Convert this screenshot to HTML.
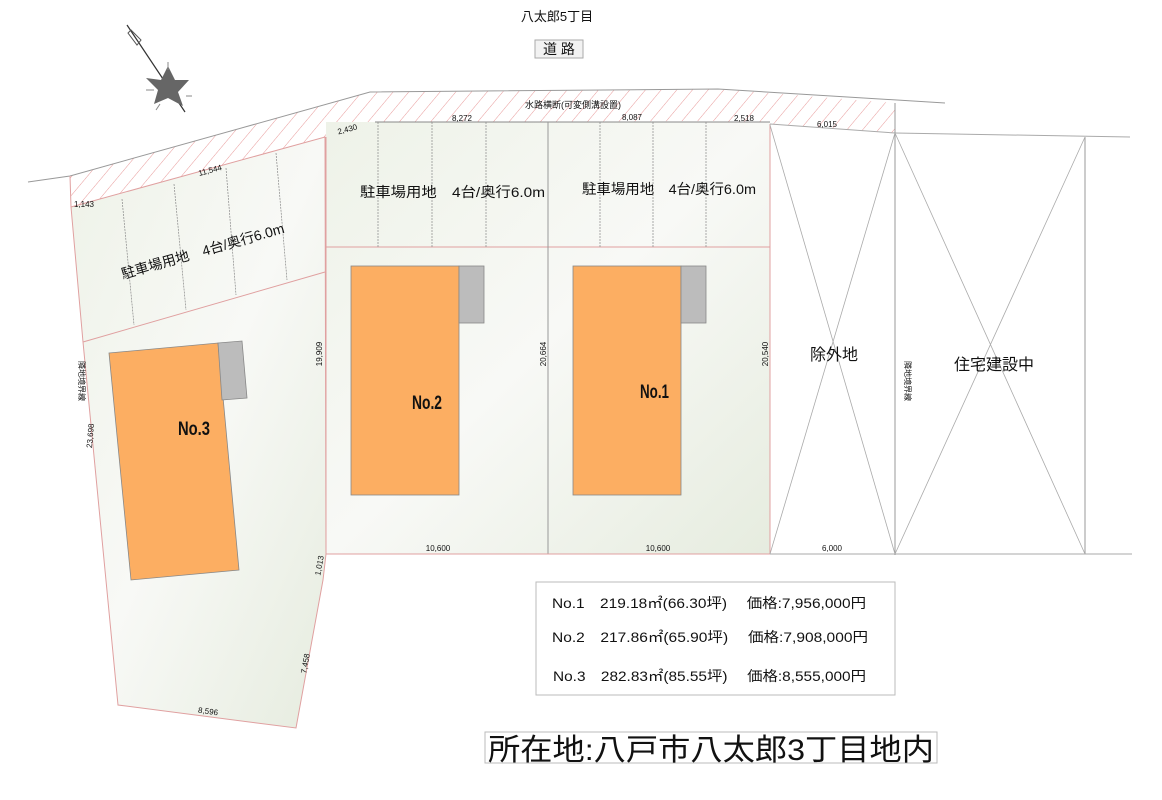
<!DOCTYPE html>
<html><head><meta charset="utf-8"><style>
html,body{margin:0;padding:0;background:#fff;}
svg{display:block;}
text{font-family:"Liberation Sans","Noto Sans CJK JP",sans-serif;fill:#111;}
</style></head><body>
<svg width="1162" height="800" viewBox="0 0 1162 800" xmlns="http://www.w3.org/2000/svg">
<defs>
<pattern id="h" patternUnits="userSpaceOnUse" width="12" height="12" patternTransform="rotate(40)">
<line x1="0" y1="0" x2="0" y2="12" stroke="#e89a9a" stroke-width="1"/>
</pattern>
<linearGradient id="g" x1="0" y1="0" x2="1" y2="1">
<stop offset="0" stop-color="#eef2e8"/><stop offset="0.5" stop-color="#f8f9f6"/><stop offset="1" stop-color="#e6ecdf"/>
</linearGradient>
</defs>

<polygon points="70,176 370,92 718,89 895,103 895,133 770,124 716,121 375,122 325,137 71,207" fill="url(#h)"/>
<polyline points="28,182 70,176 370,92 718,89 945,103" fill="none" stroke="#999" stroke-width="1"/>
<line x1="70" y1="176" x2="71" y2="207" stroke="#e0a0a0"/>

<polygon points="71,207 325,137 326,554 323,580 296,728 118,705 83,342" fill="url(#g)" stroke="#e0a0a0" stroke-width="1"/>
<line x1="83" y1="342" x2="325" y2="272" stroke="#e0a0a0"/>
<g stroke="#888" stroke-width="0.7" stroke-dasharray="2,1">
<line x1="122" y1="199" x2="134" y2="325"/>
<line x1="174" y1="184" x2="186" y2="310"/>
<line x1="226" y1="168" x2="236" y2="295"/>
<line x1="276" y1="153" x2="287" y2="280"/>
</g>

<rect x="326" y="122" width="444" height="432" fill="url(#g)" stroke="none"/>
<line x1="326" y1="137" x2="326" y2="554" stroke="#e0a0a0"/>
<line x1="770" y1="124" x2="770" y2="554" stroke="#e0a0a0"/>
<line x1="326" y1="247" x2="770" y2="247" stroke="#e0a0a0"/>
<line x1="375" y1="122" x2="770" y2="122" stroke="#888"/>
<line x1="548" y1="122" x2="548" y2="554" stroke="#999"/>
<g stroke="#888" stroke-width="0.7" stroke-dasharray="2,1">
<line x1="378" y1="122" x2="378" y2="247"/><line x1="432" y1="122" x2="432" y2="247"/><line x1="486" y1="122" x2="486" y2="247"/>
<line x1="600" y1="122" x2="600" y2="247"/><line x1="653" y1="122" x2="653" y2="247"/><line x1="706" y1="122" x2="706" y2="247"/>
</g>
<line x1="326" y1="554" x2="770" y2="554" stroke="#e0a0a0"/>

<line x1="770" y1="124" x2="895" y2="133" stroke="#aaa"/>
<line x1="895" y1="133" x2="1130" y2="137" stroke="#aaa"/>
<line x1="770" y1="554" x2="1132" y2="554" stroke="#aaa"/>
<line x1="895" y1="103" x2="895" y2="555" stroke="#999"/>
<line x1="1085" y1="137" x2="1085" y2="554" stroke="#999"/>
<g stroke="#aaa" stroke-width="0.8">
<line x1="770" y1="125" x2="895" y2="554"/><line x1="895" y1="133" x2="770" y2="554"/>
<line x1="895" y1="133" x2="1085" y2="554"/><line x1="1085" y1="137" x2="895" y2="554"/>
</g>

<rect x="351" y="266" width="108" height="229" fill="#fcae62" stroke="#888" stroke-width="0.8"/>
<rect x="459" y="266" width="25" height="57" fill="#bcbcbc" stroke="#888" stroke-width="0.8"/>
<rect x="573" y="266" width="108" height="229" fill="#fcae62" stroke="#888" stroke-width="0.8"/>
<rect x="681" y="266" width="25" height="57" fill="#bcbcbc" stroke="#888" stroke-width="0.8"/>
<polygon points="109,353 218,343 239,570 131,580" fill="#fcae62" stroke="#888" stroke-width="0.8"/>
<polygon points="218,343 242,341 247,398 222,400" fill="#bcbcbc" stroke="#888" stroke-width="0.8"/>
<text x="412" y="409" font-size="19" font-weight="bold" textLength="30" lengthAdjust="spacingAndGlyphs">No.2</text>
<text x="640" y="398" font-size="19" font-weight="bold" textLength="29" lengthAdjust="spacingAndGlyphs">No.1</text>
<text x="178" y="435" font-size="19" font-weight="bold" textLength="32" lengthAdjust="spacingAndGlyphs">No.3</text>

<line x1="127" y1="25" x2="185" y2="112" stroke="#333" stroke-width="1.2"/>
<polygon points="131,30 141,40 137,45 128,33" fill="none" stroke="#555"/>
<polygon points="168,66 175,80 189,80 178,92 183,106 168,98 154,104 158,90 146,78 161,80" fill="#666"/>
<g stroke="#888"><line x1="168" y1="62" x2="168" y2="70"/><line x1="146" y1="90" x2="154" y2="90"/><line x1="186" y1="96" x2="192" y2="96"/><line x1="160" y1="104" x2="156" y2="110"/></g>

<text x="557" y="21" font-size="13" text-anchor="middle">八太郎5丁目</text>
<rect x="535" y="40" width="48" height="18" fill="#f2f2f2" stroke="#aaa"/>
<text x="559" y="54" font-size="14" text-anchor="middle">道 路</text>
<text x="573" y="108" font-size="9" text-anchor="middle">水路横断(可変側溝設置)</text>
<g font-size="8">
<text x="462" y="121" text-anchor="middle">8,272</text>
<text x="632" y="120" text-anchor="middle">8,087</text>
<text x="744" y="121" text-anchor="middle">2,518</text>
<text x="827" y="127" text-anchor="middle">6,015</text>
<text x="347" y="132" text-anchor="middle" transform="rotate(-15 347 128)">2,430</text>
<text x="210" y="173" text-anchor="middle" transform="rotate(-15 210 170)">11,544</text>
<text x="84" y="207" text-anchor="middle">1,143</text>
<text x="438" y="551" text-anchor="middle">10,600</text>
<text x="658" y="551" text-anchor="middle">10,600</text>
<text x="832" y="551" text-anchor="middle">6,000</text>
<text x="208" y="714" text-anchor="middle" transform="rotate(8 208 712)">8,596</text>
<text x="0" y="0" text-anchor="middle" transform="translate(322,354) rotate(-90)">19,909</text>
<text x="0" y="0" text-anchor="middle" transform="translate(546,354) rotate(-90)">20,664</text>
<text x="0" y="0" text-anchor="middle" transform="translate(768,354) rotate(-90)">20,540</text>
<text x="0" y="0" text-anchor="middle" transform="translate(93,436) rotate(-85)">23,698</text>
<text x="0" y="0" text-anchor="middle" transform="translate(322,566) rotate(-80)">1,013</text>
<text x="0" y="0" text-anchor="middle" transform="translate(308,664) rotate(-80)">7,458</text>
<text x="0" y="0" text-anchor="middle" transform="translate(79,381) rotate(90)">隣地境界線</text>
<text x="0" y="0" text-anchor="middle" transform="translate(905,381) rotate(90)">隣地境界線</text>
</g>
<text x="360" y="197" font-size="14" textLength="185" lengthAdjust="spacingAndGlyphs">駐車場用地　4台/奥行6.0m</text>
<text x="582" y="194" font-size="14" textLength="174" lengthAdjust="spacingAndGlyphs">駐車場用地　4台/奥行6.0m</text>
<text x="203" y="256" font-size="14" text-anchor="middle" transform="rotate(-16 203 252)">駐車場用地　4台/奥行6.0m</text>
<text x="834" y="360" font-size="16" text-anchor="middle">除外地</text>
<text x="994" y="370" font-size="16" text-anchor="middle">住宅建設中</text>

<rect x="536" y="582" width="359" height="113" fill="#fff" stroke="#bbb"/>
<g font-size="14">
<text x="552" y="608" textLength="314" lengthAdjust="spacingAndGlyphs">No.1　219.18㎡(66.30坪)　 価格:7,956,000円</text>
<text x="552" y="642" textLength="316" lengthAdjust="spacingAndGlyphs">No.2　217.86㎡(65.90坪)　  価格:7,908,000円</text>
<text x="553" y="681" textLength="313" lengthAdjust="spacingAndGlyphs">No.3　282.83㎡(85.55坪)　 価格:8,555,000円</text>
</g>
<rect x="485" y="732" width="452" height="31" fill="#fff" stroke="#bbb"/>
<text x="488" y="760" font-size="30" textLength="446" lengthAdjust="spacingAndGlyphs">所在地:八戸市八太郎3丁目地内</text>
</svg>
</body></html>
